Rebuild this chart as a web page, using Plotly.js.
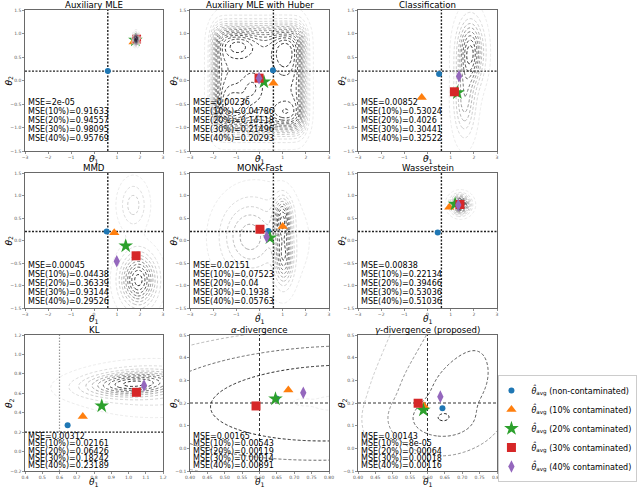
<!DOCTYPE html>
<html><head><meta charset="utf-8">
<script src="https://cdn.plot.ly/plotly-3.0.1.min.js"></script>
<style>html,body{margin:0;padding:0;background:#fff}#chart{width:640px;height:489px}</style>
</head><body><div id="chart"></div>
<script>
// ---------------- data ----------------
const trueTheta = [0.6, 0.2];
const titles = ["Auxiliary MLE", "Auxiliary MLE with Huber", "Classification",
  "MMD", "MONK-Fast", "Wasserstein",
  "KL", "<i>α</i>-divergence", "<i>γ</i>-divergence (proposed)"];
const seriesNames = ["(non-contaminated)", "(10% contaminated)", "(20% contaminated)",
  "(30% contaminated)", "(40% contaminated)"];
const mseLabels = ["MSE=", "MSE(10%)=", "MSE(20%)=", "MSE(30%)=", "MSE(40%)="];

// estimated theta1 / theta2 per method, order: 0%,10%,20%,30%,40%
const auxMLE_t1 = [0.60, 1.72, 1.80, 1.85, 1.83];
const auxMLE_t2 = [0.20, 0.82, 0.86, 0.88, 0.87];
const huber_t1 = [0.58, 0.60, 0.19, -0.02, -0.02];
const huber_t2 = [0.22, -0.06, -0.03, 0.05, 0.05];
const classif_t1 = [0.50, -0.25, 1.29, 1.16, 1.36];
const classif_t2 = [0.14, -0.36, -0.26, -0.24, 0.09];
const mmd_t1 = [0.55, 0.88, 1.38, 1.83, 0.99];
const mmd_t2 = [0.20, 0.17, -0.12, -0.34, -0.46];
const monk_t1 = [0.38, 1.00, 0.45, 0.02, 0.31];
const monk_t2 = [0.21, 0.31, 0.06, 0.25, 0.08];
const wass_t1 = [0.44, 0.94, 1.19, 1.40, 1.33];
const wass_t2 = [0.18, 0.74, 0.81, 0.80, 0.79];
const kl_t1 = [0.647, 0.735, 0.845, 1.046, 1.09];
const kl_t2 = [0.27, 0.36, 0.47, 0.61, 0.68];
const alpha_t1 = [0.649, 0.683, 0.646, 0.590, 0.726];
const alpha_t2 = [0.220, 0.257, 0.218, 0.187, 0.245];
const gamma_t1 = [0.643, 0.590, 0.588, 0.573, 0.637];
const gamma_t2 = [0.177, 0.187, 0.169, 0.199, 0.228];

const mseAux = ["2e-05", "0.91633", "0.94557", "0.98095", "0.95769"];
const mseHuber = ["0.00236", "0.04786", "0.14118", "0.21496", "0.20293"];
const mseClassif = ["0.00852", "0.53024", "0.4026", "0.30441", "0.32522"];
const mseMMD = ["0.00045", "0.04438", "0.36339", "0.93144", "0.29526"];
const mseMonk = ["0.02151", "0.07523", "0.04", "0.1938", "0.05763"];
const mseWass = ["0.00838", "0.22134", "0.39466", "0.53036", "0.51036"];
const mseKL = ["0.00312", "0.02161", "0.06426", "0.18242", "0.23189"];
const mseAlpha = ["0.00165", "0.00543", "0.00119", "0.00014", "0.00891"];
const mseGamma = ["0.00143", "8e-05", "0.00064", "0.00018", "0.00116"];

// posterior-shape components: [mx, my, sx, sy, rho, w]
const auxComps = [[1.83, 0.88, 0.07, 0.08, 0, 1]];
const huberBox = [-1.95, 1.9, -1.05, 1.12];
const huberBumps = [[-0.95, 0.8, 0.55, 0.22, 0, 0.2], [1.1, 0.65, 0.4, 0.35, 0, 0.2],
  [-1.2, -0.55, 0.45, 0.3, 0, 0.18], [1.15, -0.75, 0.5, 0.22, 0, 0.18], [-0.3, -0.15, 0.35, 0.25, 0, 0.12]];
const classifComps = [[1.85, 0.6, 0.36, 0.45, 0, 1], [1.6, -0.45, 0.3, 0.5, 0, 0.55]];
const mmdComps = [[1.93, -0.88, 0.5, 0.38, 0, 1], [1.71, 0.79, 0.4, 0.35, 0, 0.3]];
const monkComps = [[1.0, 0.5, 0.25, 0.3, 0, 1], [1.05, -0.35, 0.25, 0.4, 0, 0.95],
  [-0.5, 0.1, 0.75, 0.5, 0, 0.45], [0.1, 0.0, 1.25, 0.75, 0, 0.25]];
const wassComps = [[1.42, 0.8, 0.26, 0.13, 0, 1]];
const klComps = [[1.02, 0.7, 0.18, 0.08, 0.2, 1], [1.15, 0.65, 0.28, 0.17, 0, 0.3]];
const alphaComps = [[0.82, 0.2, 0.14, 0.065, 0.1, 1], [0.716, 0.205, 0.02, 0.012, 0, 0.3]];
const gammaComps = [[0.643, 0.13, 0.05, 0.045, 0, 1], [0.68, 0.25, 0.06, 0.09, 0.3, 0.5],
  [0.73, 0.38, 0.07, 0.15, 0.4, 0.25]];

// ---------------- build ----------------
const T1 = [auxMLE_t1, huber_t1, classif_t1, mmd_t1, monk_t1, wass_t1, kl_t1, alpha_t1, gamma_t1];
const T2 = [auxMLE_t2, huber_t2, classif_t2, mmd_t2, monk_t2, wass_t2, kl_t2, alpha_t2, gamma_t2];
const MSE = [mseAux, mseHuber, mseClassif, mseMMD, mseMonk, mseWass, mseKL, mseAlpha, mseGamma];

const wide = {x: [-3, 3], y: [-1.5, 1.5], dx: 1, dy: 0.5, fx: 'd', fy: '.1f'};
const klR = {x: [0.4, 1.2], y: [-0.2, 1.2], dx: 0.1, dy: 0.2, fx: '.1f', fy: '.1f'};
const fineR = {x: [0.4, 0.8], y: [-0.1, 0.5], dx: 0.05, dy: 0.1, fx: '.2f', fy: '.1f'};
const ranges = [wide, wide, wide, wide, wide, wide, klR, fineR, fineR];

function gauss(c, x, y) {
  const [mx, my, sx, sy, rho, w] = c;
  const dx = (x - mx) / sx, dy = (y - my) / sy;
  return w * Math.exp(-0.5 * (dx * dx - 2 * rho * dx * dy + dy * dy) / (1 - rho * rho));
}
const mix = comps => (x, y) => comps.reduce((s, c) => s + gauss(c, x, y), 0);
const sig = t => 1 / (1 + Math.exp(-t));
function huberFn(x, y) {
  const s = 0.13, [x0, x1, y0, y1] = huberBox;
  const box = sig((x - x0) / s) * sig((x1 - x) / s) * sig((y - y0) / s) * sig((y1 - y) / s);
  return box * (0.75 + huberBumps.reduce((a, c) => a + gauss(c, x, y), 0));
}
const densFns = [mix(auxComps), huberFn, mix(classifComps), mix(mmdComps), mix(monkComps),
  mix(wassComps), mix(klComps), mix(alphaComps), mix(gammaComps)];
const levelSets = [
  {t: 'p', sets: [[0.04, 0.97, 0.08]]},
  {t: 'p', sets: [[0.03, 0.96, 0.06]]},
  {t: 'p', sets: [[0.05, 0.95, 0.11]]},
  {t: 'p', sets: [[0.05, 0.95, 0.1]]},
  {t: 'p', sets: [[0.05, 0.95, 0.1]]},
  {t: 'p', sets: [[0.04, 0.97, 0.08]]},
  {t: 'p', sets: [[0.05, 0.95, 0.1]]},
  {t: 'q', sets: [[0.6, 0.6, 1], [2.6, 6.5, 1.3]]},
  {t: 'q', sets: [[0.3, 6.0, 1.4]]}
];

const colX = [[25, 163], [190, 329], [358, 497]];
const rowY = [[10, 151], [173, 308], [335, 471]];
const W = 640, H = 489;
const mseBottom = [13, 7, 5.5], mseStep = [9, 9, 7.2];
const xTitleShift = [-8, -11, -11];

const markers = [
  {symbol: 'circle', color: '#1f77b4', size: 6},
  {symbol: 'triangle-up', color: '#ff7f0e', size: 9},
  {symbol: 'star', color: '#2ca02c', size: 11},
  {symbol: 'square', color: '#d62728', size: 9},
  {symbol: 'diamond-tall', color: '#9467bd', size: 9}
];

const pScale = [[0, '#e8e8e8'], [0.35, '#b4b4b4'], [0.7, '#555555'], [1, '#111111']];
const qScale = [[0, '#111111'], [0.4, '#666666'], [0.8, '#cfcfcf'], [1, '#e8e8e8']];

const traces = [], annotations = [], shapes = [];
const layout = {
  width: W, height: H, margin: {l: 0, r: 0, t: 0, b: 0, autoexpand: false},
  paper_bgcolor: '#fff', plot_bgcolor: '#fff',
  font: {family: 'DejaVu Sans', color: '#000'},
  showlegend: true,
  legend: {x: 0.996, xanchor: 'right', y: 1 - 375 / H, yanchor: 'top',
    tracegroupgap: 0, itemsizing: 'trace', indentation: -8,
    bgcolor: '#fff', bordercolor: '#cccccc', borderwidth: 1,
    font: {family: 'DejaVu Sans', size: 8}},
  annotations, shapes
};

for (let i = 0; i < 9; i++) {
  const r = Math.floor(i / 3), c = i % 3;
  const id = i === 0 ? '' : String(i + 1);
  const R = ranges[i];
  const axBase = {showline: true, mirror: true, linecolor: '#444', linewidth: 0.8,
    ticks: 'outside', ticklen: 2, tickwidth: 0.6, tickcolor: '#444',
    tickfont: {size: 4.5, color: '#555'}, showgrid: false, zeroline: false, fixedrange: true,
    automargin: false};
  layout['xaxis' + id] = Object.assign({}, axBase, {
    domain: [colX[c][0] / W, colX[c][1] / W], range: R.x, anchor: 'y' + id,
    dtick: R.dx, tick0: R.x[0], tickformat: R.fx});
  layout['yaxis' + id] = Object.assign({}, axBase, {
    domain: [1 - rowY[r][1] / H, 1 - rowY[r][0] / H], range: R.y, anchor: 'x' + id,
    dtick: R.dy, tick0: R.y[0], tickformat: R.fy});

  // contour grid
  const n = 110, xs = [], ys = [];
  for (let k = 0; k < n; k++) {
    xs.push(R.x[0] + (R.x[1] - R.x[0]) * k / (n - 1));
    ys.push(R.y[0] + (R.y[1] - R.y[0]) * k / (n - 1));
  }
  let Z = ys.map(y => xs.map(x => densFns[i](x, y)));
  let mx = 0; Z.forEach(row => row.forEach(v => { if (v > mx) mx = v; }));
  const L = levelSets[i];
  if (L.t === 'p') Z = Z.map(row => row.map(v => v / mx));
  else Z = Z.map(row => row.map(v => Math.sqrt(Math.max(0, -2 * Math.log(Math.max(v, 1e-300) / mx)))));
  let cx = 'x' + id, cy = 'y' + id;
  if (i === 0) { cx = 'x10'; cy = 'y10'; }
  L.sets.forEach(s => {
    traces.push({type: 'contour', x: xs, y: ys, z: Z, xaxis: cx, yaxis: cy,
      showscale: false, hoverinfo: 'skip', showlegend: false,
      autocontour: false, zauto: false,
      zmin: 0, zmax: L.t === 'p' ? 1 : 7,
      colorscale: L.t === 'p' ? pScale : qScale,
      contours: {coloring: 'lines', start: s[0], end: s[1], size: s[2], showlabels: false},
      line: {width: 0.9, dash: '3px,2px', smoothing: 1}});
  });

  // estimates
  for (let k = 0; k < 5; k++) {
    traces.push({type: 'scatter', mode: 'markers', x: [T1[i][k]], y: [T2[i][k]],
      xaxis: 'x' + id, yaxis: 'y' + id, showlegend: i === 0,
      name: '<i>θ̂</i><sub>avg</sub> ' + seriesNames[k],
      marker: {symbol: markers[k].symbol, color: markers[k].color, size: markers[k].size, line: {width: 0}},
      hoverinfo: 'skip'});
  }

  // crosshair at the true parameter
  let vStyle, hStyle;
  if (i < 6) { vStyle = hStyle = {color: '#222', width: 1.4, dash: '2px,1.5px'}; }
  else if (i === 6) { vStyle = {color: '#999', width: 1.2, dash: '1.5px,1.5px'}; hStyle = {color: '#222', width: 1.4, dash: '2px,1.5px'}; }
  else { vStyle = hStyle = {color: '#333', width: 1, dash: '3px,2px'}; }
  shapes.push({type: 'line', layer: 'below', xref: 'x' + id, yref: 'y' + id + ' domain',
    x0: trueTheta[0], x1: trueTheta[0], y0: 0, y1: 1, line: vStyle});
  shapes.push({type: 'line', layer: 'below', xref: 'x' + id + ' domain', yref: 'y' + id,
    x0: 0, x1: 1, y0: trueTheta[1], y1: trueTheta[1], line: hStyle});

  // title and axis labels
  annotations.push({xref: 'x' + id + ' domain', yref: 'y' + id + ' domain', x: 0.5, y: 1,
    yanchor: 'middle', yshift: 4.8, showarrow: false, text: titles[i],
    font: {size: 8.6, family: 'DejaVu Sans'}});
  annotations.push({xref: 'x' + id + ' domain', yref: 'y' + id + ' domain', x: 0.5, y: 0,
    yanchor: 'middle', yshift: xTitleShift[r], showarrow: false, text: '<i>θ</i><sub>1</sub>',
    font: {size: 9, family: 'DejaVu Sans'}});
  annotations.push({xref: 'x' + id + ' domain', yref: 'y' + id + ' domain', x: 0, y: 0.5,
    xanchor: 'center', xshift: -16, showarrow: false, textangle: -90, text: '<i>θ</i><sub>2</sub>',
    font: {size: 9, family: 'DejaVu Sans'}});
  // MSE lines
  for (let k = 0; k < 5; k++) {
    annotations.push({xref: 'x' + id + ' domain', yref: 'y' + id + ' domain', x: 0, y: 0,
      xanchor: 'left', yanchor: 'middle', xshift: 1, yshift: mseBottom[r] + (4 - k) * mseStep[r],
      showarrow: false, text: mseLabels[k] + MSE[i][k],
      font: {size: 8, family: 'DejaVu Sans'}});
  }
}
// overlay axes so the first panel's dense contours sit above its markers
layout.xaxis10 = {overlaying: 'x', range: wide.x, visible: false, anchor: 'y10', fixedrange: true};
layout.yaxis10 = {overlaying: 'y', range: wide.y, visible: false, anchor: 'x10', fixedrange: true};

Plotly.newPlot('chart', traces, layout, {staticPlot: true, displayModeBar: false});
</script>
</body></html>
